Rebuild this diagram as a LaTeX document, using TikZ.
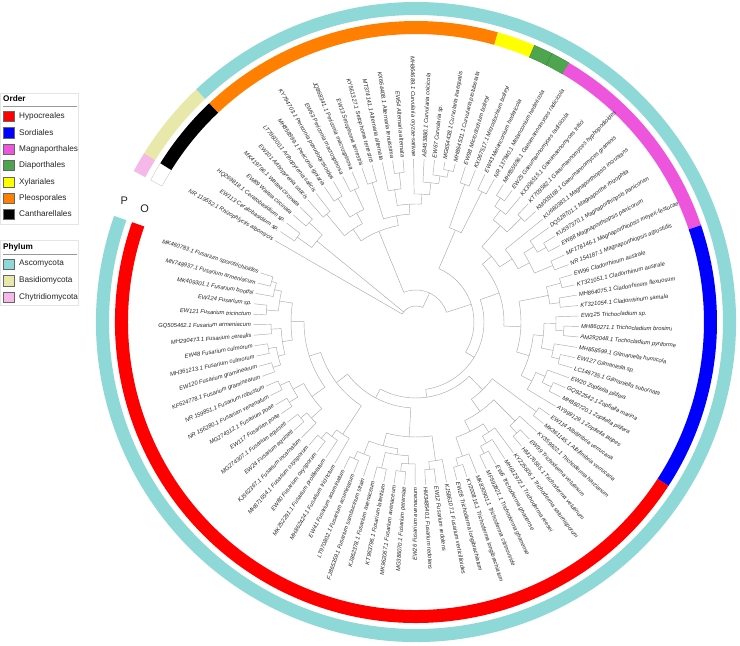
\documentclass[tikz,border=0pt]{standalone}
\usepackage{fontspec}
\setmainfont{Liberation Sans}
\definecolor{hypo}{HTML}{FF0000}
\definecolor{sord}{HTML}{0000FF}
\definecolor{magn}{HTML}{EE55DD}
\definecolor{diap}{HTML}{4DA64D}
\definecolor{xyla}{HTML}{FFFF00}
\definecolor{pleo}{HTML}{FF7F00}
\definecolor{cant}{HTML}{000000}
\definecolor{asco}{HTML}{8ED8D8}
\definecolor{basi}{HTML}{E8E8AA}
\definecolor{chyt}{HTML}{F5B8E8}
\definecolor{treec}{HTML}{ABABAB}
\def\Rtip{163}
\def\Astart{150}
\def\Astep{3.697}
\newcommand\Lf[1]{%
  \pgfmathsetmacro\tmpA{\Astart-(#1-1)*\Astep}%
  \expandafter\xdef\csname TA#1\endcsname{\tmpA}%
  \expandafter\xdef\csname TR#1\endcsname{\Rtip}}
\newcommand\Cl[3]{%
  \foreach \c [count=\k] in {#3}{%
    \ifnum\k=1 \xdef\clA{\csname TA\c\endcsname}\fi
    \xdef\clB{\csname TA\c\endcsname}%
    \edef\ca{\csname TA\c\endcsname}\edef\cr{\csname TR\c\endcsname}%
    \draw[tl] (\ca:#2) -- (\ca:\cr);
  }%
  \draw[tl] (\clA:#2) arc[start angle=\clA,end angle=\clB,radius=#2];
  \pgfmathsetmacro\tmpA{(\clA+\clB)/2}%
  \expandafter\xdef\csname TA#1\endcsname{\tmpA}%
  \expandafter\xdef\csname TR#1\endcsname{#2}}
\newcommand\seg[5]{%
  \pgfmathsetmacro\sa{\Astart-(#3-1.5)*\Astep}%
  \pgfmathsetmacro\sb{\Astart-(#4-0.5)*\Astep}%
  \path[#5] (\sa:#1) arc[start angle=\sa,end angle=\sb,radius=#1] -- (\sb:#2) arc[start angle=\sb,end angle=\sa,radius=#2] -- cycle;}
\tikzset{
  tl/.style={draw=treec,line width=0.45pt},
  lab/.style={font=\fontsize{5.8}{6}\selectfont\itshape,text=black!85,inner sep=0pt},
  legtxt/.style={font=\fontsize{8.2}{9}\selectfont,text=black!85,anchor=west,inner sep=0pt},
  legttl/.style={font=\fontsize{8.2}{9}\selectfont\bfseries,text=black,anchor=west,inner sep=0pt},
  legsq/.style={draw=black!60,line width=0.4pt,minimum size=10.5pt,inner sep=0pt},
  legbox/.style={draw=black!10,line width=0.5pt,fill=white},
  ringlab/.style={font=\fontsize{11}{12}\selectfont,text=black!85,inner sep=0pt}
}
\begin{document}
\begin{tikzpicture}[x=1pt,y=1pt]
\useasboundingbox (0,0) rectangle (740,646);
\fill[white] (0,0) rectangle (740,646);
\begin{scope}[shift={(416,324)}]
  % rings: phylum (outer)
  \seg{307}{320}{1}{1}{fill=chyt}
  \seg{307}{320}{2}{5}{fill=basi}
  \seg{307}{320}{6}{95}{fill=asco}
  % rings: order (inner)
  \seg{288}{301}{1}{1}{draw=black!25,line width=0.3pt,fill=white}
  \seg{288}{301}{2}{5}{fill=cant}
  \seg{288}{301}{6}{21}{fill=pleo}
  \seg{288}{301}{22}{23}{fill=xyla}
  \seg{288}{301}{24}{24}{fill=diap,draw=diap!75!black,line width=0.3pt}
  \seg{288}{301}{25}{25}{fill=diap,draw=diap!75!black,line width=0.3pt}
  \seg{288}{301}{26}{36}{fill=magn}
  \seg{288}{301}{37}{50}{fill=sord}
  \seg{288}{301}{51}{95}{fill=hypo}
  \node[ringlab] (ringP) at (157.4:316) {P};
  \node[ringlab] (ringO) at (157.4:294) {O};
  % tree
  \foreach \i in {1,...,95}{\Lf{\i}}
  \Cl{ce}{146}{2,3}
  \Cl{wa}{146}{4,5}
  \Cl{ca}{128}{ce,wa}
  \Cl{ar}{140}{6,7}
  \Cl{pi}{146}{8,9}
  \Cl{pm}{146}{10,11}
  \Cl{pe}{124}{pi,pm}
  \Cl{da}{112}{ar,pe}
  \Cl{se}{146}{12,13}
  \Cl{aa}{150}{15,16}
  \Cl{al}{134}{14,aa}
  \Cl{cd}{155}{20,21}
  \Cl{cc}{148}{19,cd}
  \Cl{cb}{140}{18,cc}
  \Cl{cu}{128}{17,cb}
  \Cl{ac}{118}{al,cu}
  \Cl{db}{108}{se,ac}
  \Cl{do}{98}{da,db}
  \Cl{xy}{146}{22,23}
  \Cl{di}{146}{24,25}
  \Cl{xd}{100}{xy,di}
  \Cl{ga}{150}{26,27}
  \Cl{gb}{140}{ga,28}
  \Cl{gc}{148}{29,30}
  \Cl{gd}{128}{gb,gc}
  \Cl{ma}{150}{33,34}
  \Cl{mb}{140}{32,ma}
  \Cl{mc}{148}{35,36}
  \Cl{md}{128}{mb,mc}
  \Cl{me}{115}{31,md}
  \Cl{mg}{100}{gd,me}
  \Cl{cl}{150}{37,38}
  \Cl{cm}{145}{39,40}
  \Cl{cn}{135}{cl,cm}
  \Cl{tr}{148}{42,43}
  \Cl{to}{140}{41,tr}
  \Cl{gi}{148}{45,46}
  \Cl{gj}{140}{44,gi}
  \Cl{tg}{128}{to,gj}
  \Cl{zb}{150}{48,49}
  \Cl{zc}{140}{47,zb}
  \Cl{zd}{130}{zc,50}
  \Cl{sp}{118}{tg,zd}
  \Cl{so}{105}{cn,sp}
  \Cl{ms}{88}{mg,so}
  \Cl{ab}{150}{51,52}
  \Cl{tv}{150}{54,55}
  \Cl{tw}{140}{53,tv}
  \Cl{tx}{148}{58,59}
  \Cl{ty}{140}{57,tx}
  \Cl{tz}{132}{56,ty}
  \Cl{tlb}{150}{61,62}
  \Cl{tm}{142}{60,tlb}
  \Cl{tn}{122}{tz,tm}
  \Cl{tt}{110}{tw,tn}
  \Cl{at}{95}{ab,tt}
  \Cl{fr}{148}{64,65}
  \Cl{fa}{140}{63,fr}
  \Cl{fb}{150}{67,68}
  \Cl{fc}{142}{66,fb}
  \Cl{fd}{150}{69,70}
  \Cl{fe}{134}{fc,fd}
  \Cl{ff}{150}{72,73}
  \Cl{fg}{142}{71,ff}
  \Cl{fh}{128}{fe,fg}
  \Cl{fi}{115}{fa,fh}
  \Cl{fj}{150}{76,77}
  \Cl{fk}{142}{75,fj}
  \Cl{fl}{134}{74,fk}
  \Cl{fm}{150}{79,80}
  \Cl{fn}{142}{78,fm}
  \Cl{fo}{150}{81,82}
  \Cl{fp}{150}{83,84}
  \Cl{fq}{140}{fo,fp}
  \Cl{fs}{128}{fn,fq}
  \Cl{ft}{150}{85,86}
  \Cl{fu}{150}{87,88}
  \Cl{fv}{142}{ft,fu}
  \Cl{fw}{145}{89,90}
  \Cl{fx}{135}{fv,fw}
  \Cl{fy}{150}{91,92}
  \Cl{fz}{150}{94,95}
  \Cl{fA}{145}{93,fz}
  \Cl{fB}{138}{fy,fA}
  \Cl{fC}{125}{fx,fB}
  \Cl{fD}{112}{fs,fC}
  \Cl{fE}{100}{fl,fD}
  \Cl{fus}{86}{fi,fE}
  \Cl{hy}{76}{at,fus}
  \Cl{sh}{68}{ms,hy}
  \Cl{sd}{58}{xd,sh}
  \Cl{as}{32}{do,sd}
  \Cl{rt}{16}{1,ca,as}
  % labels
  \foreach \i/\t in {
   1/NR 119552.1 Rhizophlyctis albomycis,
   2/EW113 Ceratobasidium sp.,
   3/HQ269818.1 Ceratobasidium sp.,
   4/EW89 Waitea circinata,
   5/MK419796.1 Waitea circinata,
   6/EW101 Arthopyrenia salicis,
   7/LT796000.1 Arthopyrenia salicis,
   8/MH858999.1 Periconia igniaria,
   9/KY794703.1 Periconia pseudobyssoides,
   10/EW63 Periconia macrospinosa,
   11/JQ868341.1 Periconia macrospinosa,
   12/EW13 Setophoma terrestris,
   13/KY561327.1 Setophoma terrestris,
   14/MT374141.1 Alternaria alternata,
   15/KX664408.1 Alternaria tenuissima,
   16/EW54 Alternaria alternata,
   17/MH864689.1 Curvularia oryzae-sativae,
   18/AB453880.1 Curvularia coicicola,
   19/EW67 Curvularia sp.,
   20/MG654438.1 Curvularia inaequalis,
   21/MH864531.1 Curvularia protuberata,
   22/EW98 Microdochium bolleyi,
   23/KX067517.1 Microdochium bolleyi,
   24/EW43 Melanconium hedericola,
   25/NR 137940.1 Melanconium hedericola,
   26/MH855696.1 Gaeumannomyces radicicola,
   27/EW25 Gaeumannomyces radicicola,
   28/KX306515.1 Gaeumannomyces tritici,
   29/KT709582.1 Gaeumannomyces hyphopodioides,
   30/KM009168.1 Gaeumannomyces graminis,
   31/KU680383.1 Magnaporthiopsis incrustans,
   32/DQ528701.1 Magnaporthe rhizophila,
   33/KU597370.1 Magnaporthiopsis panicorum,
   34/EW88 Magnaporthiopsis panicorum,
   35/MF178146.1 Magnaporthiopsis meyeri-festucae,
   36/NR 154187.1 Magnaporthiopsis agrostidis,
   37/EW96 Cladorrhinum australe,
   38/KT321051.1 Cladorrhinum australe,
   39/MH864075.1 Cladorrhinum flexuosum,
   40/KT321054.1 Cladorrhinum samala,
   41/EW125 Trichocladium sp.,
   42/MH860271.1 Trichocladium brosimi,
   43/AM292048.1 Trichocladium pyriforme,
   44/MH858599.1 Gilmaniella humicola,
   45/EW127 Gilmaniella sp.,
   46/LC146735.1 Gilmaniella subornata,
   47/EW20 Zopfiella pilifera,
   48/GQ922542.1 Zopfiella marina,
   49/MH860720.1 Zopfiella pilifera,
   50/AY999129.1 Zopfiella latipes,
   51/EW114 Albifimbria verrucaria,
   52/MK361145.1 Albifimbria verrucaria,
   53/KY359922.1 Trichoderma harzianum,
   54/EW99 Trichoderma velutinum,
   55/HM176565.1 Trichoderma velutinum,
   56/KY225606.1 Trichoderma saturnisporum,
   57/MH612972.1 Trichoderma reesei,
   58/EW6 Trichoderma ghanense,
   59/MF592821.1 Trichoderma ghanense,
   60/MK830901.1 Trichoderma citrinoviride,
   61/KY200816.1 Trichoderma longibrachiatum,
   62/EW28 Trichoderma longibrachiatum,
   63/KJ586107.1 Fusarium verticillioides,
   64/EW12 Fusarium redolens,
   65/HM348540.1 Fusarium redolens,
   66/EW26 Fusarium avenaceum,
   67/MG386070.1 Fusarium petersiae,
   68/MK962067.1 Fusarium avenaceum,
   69/KT963796.1 Fusarium lateritium,
   70/KJ862378.1 Fusarium avenaceum,
   71/FJ865359.1 Fusarium sambucinum strain,
   72/LT970802.1 Fusarium acuminatum,
   73/EW41 Fusarium acuminatum,
   74/MH862424.1 Fusarium tricinctum,
   75/MK252291.1 Fusarium proliferatum,
   76/EW80 Fusarium oxysporum,
   77/MH871654.1 Fusarium oxysporum,
   78/KJ562367.1 Fusarium incarnatum,
   79/EW24 Fusarium equiseti,
   80/MG274307.1 Fusarium equiseti,
   81/EW117 Fusarium poae,
   82/MG274312.1 Fusarium poae,
   83/NR 156280.1 Fusarium venenatum,
   84/NR 159851.1 Fusarium robustum,
   85/KF624778.1 Fusarium graminearum,
   86/EW120 Fusarium graminearum,
   87/MH361213.1 Fusarium culmorum,
   88/EW48 Fusarium culmorum,
   89/MH290473.1 Fusarium cerealis,
   90/GQ505462.1 Fusarium armeniacum,
   91/EW121 Fusarium tricinctum,
   92/EW124 Fusarium sp.,
   93/MK409301.1 Fusarium boothii,
   94/MN748937.1 Fusarium armeniacum,
   95/MK460783.1 Fusarium sporotrichioides}{%
    \pgfmathsetmacro\ang{\Astart-(\i-1)*\Astep}%
    \pgfmathtruncatemacro\side{(\ang>90)||(\ang<-90)}%
    \ifnum\side=1
      \pgfmathsetmacro\rot{\ang+180}%
      \node[lab,anchor=east,rotate=\rot] (lab\i) at (\ang:165) {\t};
    \else
      \node[lab,anchor=west,rotate=\ang] (lab\i) at (\ang:165) {\t};
    \fi
  }
\end{scope}
% legend: Order
\path[legbox] (0.5,422) rectangle (78,553);
\node[legttl] (ordT) at (3,547) {Order};
\draw[black!40,line width=0.9pt] (3,540) -- (77,540);
\foreach \c/\t/\y [count=\n] in {hypo/Hypocreales/530,sord/Sordiales/513.5,magn/Magnaporthales/497,diap/Diaporthales/481,xyla/Xylariales/464,pleo/Pleosporales/448,cant/Cantharellales/432}{
  \node[legsq,fill=\c] (osq\n) at (8.5,\y) {};
  \node[legtxt] (otx\n) at (19,\y) {\t};
}
% legend: Phylum
\path[legbox] (0.5,341) rectangle (78,406);
\node[legttl] (phT) at (3,399) {Phylum};
\draw[black!40,line width=0.9pt] (3,392) -- (77,392);
\foreach \c/\t/\y [count=\n] in {asco/Ascomycota/382,basi/Basidiomycota/365.5,chyt/Chytridiomycota/349}{
  \node[legsq,fill=\c] (psq\n) at (8.5,\y) {};
  \node[legtxt] (ptx\n) at (19,\y) {\t};
}
\end{tikzpicture}
\end{document}
